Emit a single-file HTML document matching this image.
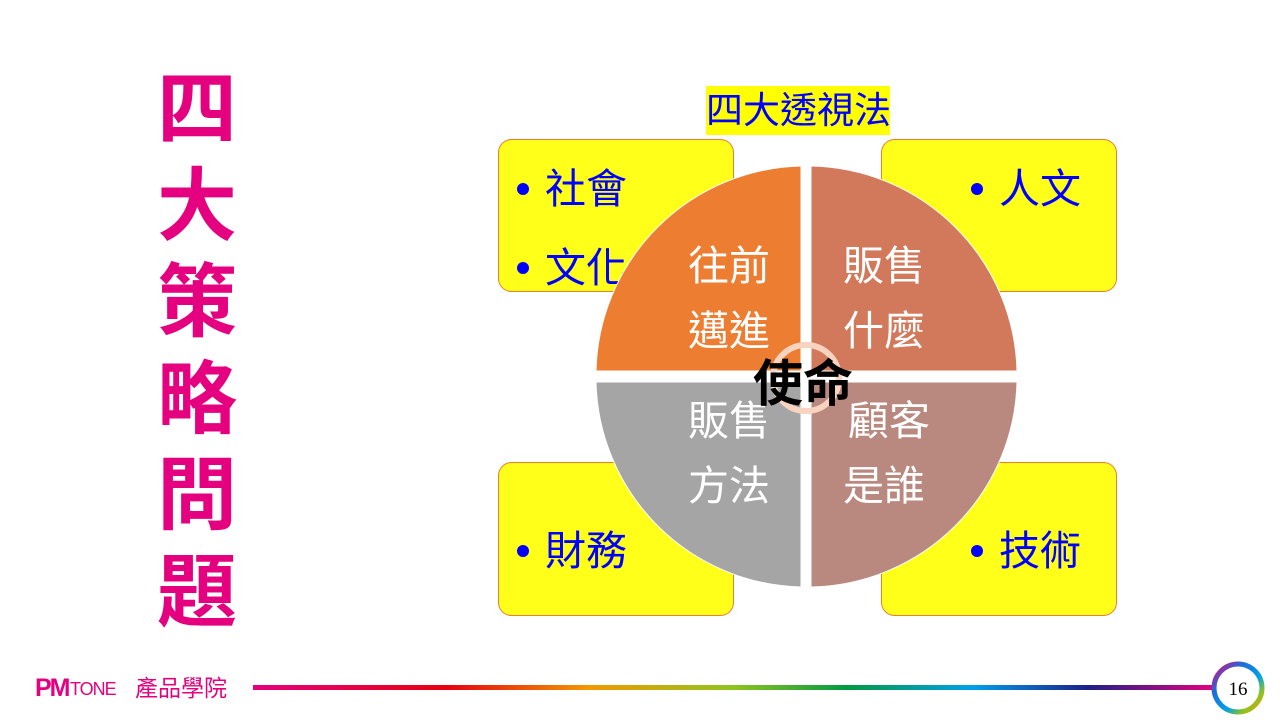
<!DOCTYPE html>
<html><head><meta charset="utf-8"><style>
body{margin:0;width:1280px;height:720px;background:#fff;overflow:hidden;position:relative;font-family:"Liberation Sans","Noto Sans CJK TC",sans-serif}
.t{position:absolute;white-space:nowrap}
</style></head><body>
<div class="t" style="left:152px;top:62px;width:90px;font-size:80px;font-weight:bold;color:#e4007f;line-height:96.5px;text-align:center">四<br>大<br>策<br>略<br>問<br>題</div>
<div class="t" style="left:706px;top:86px;width:184px;height:49px;background:#ffff00;color:#0000ff;font-size:37px;line-height:49px;text-align:center">四大透視法</div>
<svg width="1280" height="720" style="position:absolute;left:0;top:0">
<g fill="#ffff19" stroke="#ed7d31" stroke-width="1">
<rect x="498.5" y="139.5" width="235" height="152" rx="13"/>
<rect x="881.5" y="139.5" width="235" height="152" rx="13"/>
<rect x="498.5" y="462.5" width="235" height="153" rx="13"/>
<rect x="881.5" y="462.5" width="235" height="153" rx="13"/>
</g>
<g font-size="41" fill="#0000ff" font-family="Liberation Sans,Noto Sans CJK TC,sans-serif">
<circle cx="523" cy="189" r="6"/><text x="545" y="203">社會</text>
<circle cx="523" cy="268" r="6"/><text x="545" y="282">文化</text>
<circle cx="977" cy="189" r="6"/><text x="999" y="203">人文</text>
<circle cx="523" cy="551" r="6"/><text x="545" y="565">財務</text>
<circle cx="977" cy="551" r="6"/><text x="999" y="565">技術</text>
</g>
<g stroke="#fff" stroke-width="1">
<path d="M801,371 L596,371 A210,210 0 0 1 801,166 Z" fill="#ed7d31"/>
<path d="M811,371 L811,166 A210,210 0 0 1 1017,371 Z" fill="#d2795b"/>
<path d="M801,382 L801,587 A210,210 0 0 1 596,382 Z" fill="#a5a5a5"/>
<path d="M811,382 L1017,382 A210,210 0 0 1 811,587 Z" fill="#b9887e"/>
</g>
<circle cx="806" cy="378" r="33" fill="none" stroke="#f8d3c0" stroke-width="6"/>
<g font-size="41" fill="#fff" font-family="Liberation Sans,Noto Sans CJK TC,sans-serif">
<text x="688" y="280">往前</text><text x="688" y="345">邁進</text>
<text x="843" y="280">販售</text><text x="843" y="345">什麼</text>
<text x="688" y="435">販售</text><text x="688" y="500">方法</text>
<text x="848" y="435">顧客</text><text x="843" y="500">是誰</text>
</g>
<text x="803" y="401" font-size="50" font-weight="bold" text-anchor="middle" fill="#000" font-family="Liberation Sans,Noto Sans CJK TC,sans-serif">使命</text>
<defs><linearGradient id="g" x1="0" x2="1"><stop offset="0" stop-color="#e4007f"/><stop offset=".2" stop-color="#e60012"/><stop offset=".35" stop-color="#f39800"/><stop offset=".5" stop-color="#8fc31f"/><stop offset=".62" stop-color="#009944"/><stop offset=".75" stop-color="#00a0e9"/><stop offset=".87" stop-color="#1d2088"/><stop offset="1" stop-color="#e4007f"/></linearGradient>
<linearGradient id="r" x1="0" y1="0" x2="1" y2="1"><stop offset="0" stop-color="#e4007f"/><stop offset=".3" stop-color="#1d6fd8"/><stop offset=".6" stop-color="#00a0e9"/><stop offset=".8" stop-color="#8fc31f"/><stop offset="1" stop-color="#f39800"/></linearGradient></defs>
<rect x="253" y="685" width="960" height="5" fill="url(#g)"/>
<circle cx="1238" cy="688" r="24" fill="#fff" stroke="url(#r)" stroke-width="5"/>
<text x="1238" y="695" font-size="19" text-anchor="middle" font-family="Liberation Serif,serif">16</text>
<text x="35" y="696" font-size="25" font-weight="bold" fill="#e4007f" font-family="Liberation Sans,sans-serif" letter-spacing="-2">PM</text>
<text x="70" y="695" font-size="18" fill="#e4007f" font-family="Liberation Sans,sans-serif" letter-spacing="-1">TONE</text>
<text x="135" y="696" font-size="23" fill="#e4007f" font-family="Liberation Sans,Noto Sans CJK TC,sans-serif">產品學院</text>
</svg>
</body></html>
